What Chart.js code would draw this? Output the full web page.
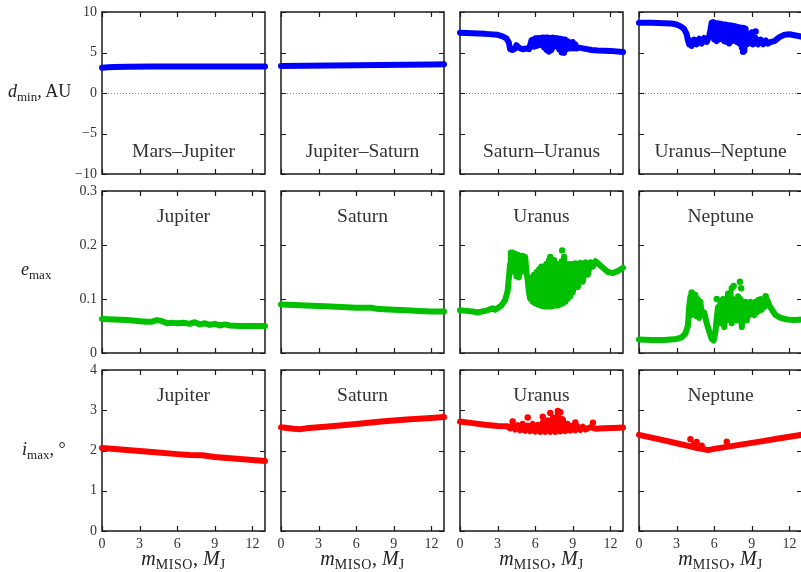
<!DOCTYPE html>
<html><head><meta charset="utf-8">
<script src="https://cdn.jsdelivr.net/npm/chart.js@4/dist/chart.umd.min.js"></script>
<style>
html,body{margin:0;padding:0;background:#fff;overflow:hidden;width:801px;height:572px;}
#wrap{position:relative;width:801px;height:572px;overflow:hidden;background:#fff;}
#wrap canvas{position:absolute;}
.lab{position:absolute;font-family:"Liberation Serif",serif;color:#222;white-space:nowrap;line-height:1;font-size:18px;}
.lab i{font-style:italic;}
.lab .s{font-size:13px;position:relative;top:4px;}
.lab.x{font-size:20px;}
.lab.x .s{font-size:14px;letter-spacing:0.6px;top:4px;}
</style></head><body><div id="wrap"></div>
<script>
// ---------- tick values and labels ----------
const massTicks = [0, 3, 6, 9, 12];
const massTickLabels = ['0', '3', '6', '9', '12'];
const dminTicks = [-10, -5, 0, 5, 10];
const dminTickLabels = ['\u221210', '\u22125', '0', '5', '10'];
const emaxTicks = [0, 0.1, 0.2, 0.3];
const emaxTickLabels = ['0', '0.1', '0.2', '0.3'];
const imaxTicks = [0, 1, 2, 3, 4];
const imaxTickLabels = ['0', '1', '2', '3', '4'];

const pairNames = ['Mars\u2013Jupiter', 'Jupiter\u2013Saturn', 'Saturn\u2013Uranus', 'Uranus\u2013Neptune'];
const planetNames = ['Jupiter', 'Saturn', 'Uranus', 'Neptune'];

// ---------- d_min (AU) ----------
const dminMarsJupiterMass = [0, 0.5, 1, 2, 4, 6, 8, 10, 12, 13];
const dminMarsJupiterAU   = [3.12, 3.18, 3.22, 3.25, 3.26, 3.26, 3.26, 3.26, 3.26, 3.26];

const dminJupiterSaturnMass = [0, 2, 4, 6, 8, 10, 12, 13];
const dminJupiterSaturnAU   = [3.33, 3.37, 3.4, 3.43, 3.46, 3.49, 3.52, 3.54];

const dminSaturnUranusMass = [0, 1, 2, 3, 3.4, 3.7, 3.9, 4.0, 4.2, 4.4, 4.5, 4.7, 5.0, 5.3, 5.5, 5.6, 5.7, 5.8, 5.9, 6.0,
  6.1, 6.2, 6.3, 6.4, 6.5, 6.6, 6.7, 6.8, 6.9, 7.0, 7.1, 7.2, 7.3, 7.4, 7.5, 7.6, 7.7, 7.8, 7.9, 8.0,
  8.1, 8.2, 8.3, 8.4, 8.5, 8.6, 8.7, 8.8, 8.9, 9.0, 9.1, 9.2, 9.3, 9.5, 10.0, 10.5, 11, 12, 13];
const dminSaturnUranusAU = [7.45, 7.38, 7.3, 7.18, 7.0, 6.75, 6.2, 5.4, 5.3, 5.5, 5.9, 5.6, 5.4, 5.5, 5.4, 5.9, 6.5, 6.6, 5.7, 6.75,
  5.8, 6.8, 5.9, 6.8, 6.0, 6.85, 5.6, 6.85, 5.3, 6.85, 5.1, 6.8, 5.3, 6.85, 5.7, 6.8, 5.8, 6.75, 5.4, 6.7,
  5.0, 6.65, 4.95, 6.6, 5.4, 6.4, 5.5, 6.1, 5.5, 6.3, 5.5, 6.0, 5.5, 5.6, 5.45, 5.3, 5.25, 5.2, 5.05];

const dminUranusNeptuneMass = [0, 1, 2, 2.6, 3.0, 3.3, 3.6, 3.8, 3.9, 4.0, 4.1, 4.2, 4.4, 4.6, 4.8, 5.0, 5.2, 5.4, 5.6, 5.7,
  5.8, 5.9, 6.0, 6.1, 6.2, 6.3, 6.4, 6.5, 6.6, 6.7, 6.8, 6.9, 7.0, 7.1, 7.2, 7.3, 7.4, 7.5, 7.6, 7.7,
  7.8, 7.9, 8.0, 8.1, 8.2, 8.3, 8.4, 8.5, 8.6, 8.8, 8.9, 9.0, 9.1, 9.3, 9.5, 9.7, 9.9, 10.1, 10.3, 10.5,
  10.8, 11.2, 11.6, 12.0, 12.5, 13];
const dminUranusNeptuneAU = [8.68, 8.66, 8.62, 8.58, 8.45, 8.25, 7.9, 7.3, 6.5, 6.0, 6.5, 5.8, 6.6, 6.0, 6.7, 6.1, 6.8, 6.3, 7.0, 7.8,
  8.7, 8.75, 6.6, 8.65, 6.4, 8.6, 6.6, 8.55, 6.7, 8.5, 6.4, 8.45, 6.3, 8.4, 6.1, 8.35, 6.4, 8.3, 6.6, 8.25,
  6.3, 8.15, 6.1, 8.1, 5.6, 8.05, 5.2, 7.95, 6.0, 7.2, 6.1, 7.5, 6.0, 6.8, 6.0, 6.6, 6.0, 6.5, 6.1, 6.3,
  6.4, 6.9, 7.2, 7.25, 7.1, 6.95];
const dminUranusNeptuneDotMass = [9.3, 8.3];
const dminUranusNeptuneDotAU = [7.6, 5.1];

// ---------- e_max ----------
const emaxJupiterMass = [0, 1, 2, 3, 3.6, 4.0, 4.4, 4.8, 5.2, 5.6, 6.0, 6.5, 7.0, 7.4, 7.8, 8.2, 8.6, 9.0, 9.4, 9.8, 10.2, 11, 12, 13];
const emaxJupiterE = [0.063, 0.062, 0.061, 0.059, 0.058, 0.058, 0.061, 0.059, 0.055, 0.056, 0.055, 0.056,
  0.054, 0.057, 0.053, 0.055, 0.052, 0.054, 0.051, 0.053, 0.051, 0.050, 0.050, 0.050];

const emaxSaturnMass = [0, 2, 4, 6, 7.2, 7.6, 8.2, 9, 10, 11, 12, 13];
const emaxSaturnE = [0.090, 0.088, 0.086, 0.084, 0.084, 0.082, 0.081, 0.080, 0.079, 0.078, 0.077, 0.077];

const emaxUranusMass = [0, 0.5, 1.0, 1.4, 1.8, 2.2, 2.6, 2.8, 3.0, 3.3, 3.6, 3.8, 3.9, 4.0, 4.05,
  4.1, 4.2, 4.3, 4.4, 4.5, 4.6, 4.7, 4.8, 4.9, 5.0, 5.1, 5.2, 5.3, 5.4, 5.5, 5.6, 5.7, 5.8, 5.9,
  6.0, 6.1, 6.2, 6.3, 6.4, 6.5, 6.6, 6.7, 6.8, 6.9, 7.0, 7.1, 7.2, 7.3, 7.4, 7.5, 7.6, 7.7, 7.8, 7.9,
  8.0, 8.1, 8.2, 8.3, 8.4, 8.5, 8.6, 8.7, 8.8, 8.9, 9.0, 9.2, 9.4, 9.6, 9.8,
  10.0, 10.2, 10.4, 10.6, 10.8, 11.0, 11.4, 11.8, 12.2, 12.6, 13];
const emaxUranusE = [0.079, 0.078, 0.077, 0.075, 0.077, 0.079, 0.083, 0.080, 0.083, 0.088, 0.098, 0.115, 0.140, 0.165, 0.186,
  0.150, 0.186, 0.155, 0.184, 0.142, 0.182, 0.140, 0.180, 0.150, 0.180, 0.160, 0.178, 0.150, 0.135, 0.112, 0.100, 0.140, 0.095, 0.145,
  0.092, 0.150, 0.090, 0.155, 0.088, 0.145, 0.087, 0.160, 0.086, 0.150, 0.086, 0.172, 0.086, 0.165, 0.087, 0.150, 0.088, 0.165, 0.088, 0.155,
  0.090, 0.170, 0.092, 0.175, 0.095, 0.165, 0.100, 0.165, 0.105, 0.165, 0.112, 0.166, 0.122, 0.167, 0.132,
  0.168, 0.145, 0.168, 0.160, 0.170, 0.166, 0.158, 0.150, 0.148, 0.152, 0.158];
const emaxUranusDotMass = [7.2, 7.5, 8.15, 8.3, 6.5, 9.0, 6.9];
const emaxUranusDotE = [0.178, 0.172, 0.190, 0.178, 0.160, 0.117, 0.165];

const emaxNeptuneMass = [0, 1, 2, 2.5, 3.0, 3.4, 3.7, 3.9,
  4.0, 4.1, 4.2, 4.3, 4.4, 4.5, 4.6, 4.7, 4.8, 4.9, 5.0, 5.2, 5.4, 5.6, 5.8, 5.95,
  6.1, 6.2, 6.3, 6.4, 6.5, 6.6, 6.7, 6.8, 6.9, 7.0, 7.1, 7.2, 7.3, 7.4, 7.5, 7.6, 7.7, 7.8, 7.9,
  8.0, 8.1, 8.2, 8.3, 8.4, 8.5, 8.6, 8.7, 8.8, 8.9, 9.0, 9.1, 9.2, 9.3, 9.4, 9.5, 9.6, 9.7, 9.8, 9.9,
  10.0, 10.2, 10.4, 10.6, 10.9, 11.3, 11.8, 12.4, 13];
const emaxNeptuneE = [0.025, 0.024, 0.024, 0.025, 0.026, 0.029, 0.036, 0.050,
  0.085, 0.105, 0.070, 0.110, 0.075, 0.108, 0.068, 0.100, 0.065, 0.095, 0.070, 0.075, 0.055, 0.040, 0.026, 0.023,
  0.040, 0.065, 0.085, 0.055, 0.095, 0.060, 0.100, 0.048, 0.095, 0.060, 0.110, 0.065, 0.112, 0.055, 0.100, 0.070, 0.095, 0.060, 0.105,
  0.068, 0.100, 0.048, 0.090, 0.065, 0.095, 0.060, 0.090, 0.070, 0.095, 0.075, 0.092, 0.070, 0.095, 0.075, 0.098, 0.078, 0.100, 0.080, 0.095,
  0.085, 0.100, 0.088, 0.080, 0.070, 0.065, 0.062, 0.061, 0.062];
const emaxNeptuneDotMass = [7.4, 7.55, 8.05, 8.15, 6.2, 10.1, 4.2];
const emaxNeptuneDotE = [0.120, 0.124, 0.132, 0.120, 0.100, 0.105, 0.112];

// ---------- i_max (deg) ----------
const imaxJupiterMass = [0, 2, 4, 6, 7, 8, 9, 11, 13];
const imaxJupiterDeg = [2.06, 2.01, 1.96, 1.91, 1.89, 1.88, 1.84, 1.79, 1.74];

const imaxSaturnMass = [0, 0.5, 1.0, 1.5, 2.0, 4, 6, 8, 10, 12, 13];
const imaxSaturnDeg = [2.58, 2.56, 2.54, 2.53, 2.55, 2.60, 2.66, 2.72, 2.77, 2.81, 2.83];

const imaxUranusMass = [0, 1, 2, 3, 3.8,
  4.0, 4.2, 4.4, 4.6, 4.8, 5.0, 5.2, 5.4, 5.6, 5.8, 6.0, 6.2, 6.4, 6.6, 6.8,
  7.0, 7.2, 7.4, 7.6, 7.8, 8.0, 8.2, 8.4, 8.6, 8.8, 9.0, 9.2, 9.4, 9.6, 9.8,
  10.0, 10.4, 10.8, 11.5, 12.2, 13];
const imaxUranusDeg = [2.72, 2.68, 2.64, 2.61, 2.60,
  2.55, 2.64, 2.52, 2.63, 2.50, 2.60, 2.49, 2.62, 2.48, 2.66, 2.47, 2.64, 2.46, 2.70, 2.46,
  2.75, 2.46, 2.82, 2.46, 2.90, 2.47, 2.78, 2.48, 2.66, 2.49, 2.62, 2.50, 2.60, 2.51, 2.59,
  2.52, 2.58, 2.54, 2.55, 2.56, 2.57];
const imaxUranusDotMass = [4.2, 5.4, 6.6, 7.2, 7.8, 8.0, 10.6, 5.0, 9.2];
const imaxUranusDotDeg = [2.72, 2.82, 2.84, 2.93, 2.98, 2.95, 2.69, 2.66, 2.70];

const imaxNeptuneMass = [0, 1, 2, 3, 4, 4.5, 5.0, 5.5, 6.0, 7.0, 8, 9, 10, 11, 12, 13];
const imaxNeptuneDeg = [2.39, 2.32, 2.25, 2.18, 2.11, 2.07, 2.04, 2.01, 2.04, 2.09, 2.14, 2.19, 2.24, 2.29, 2.34, 2.39];
const imaxNeptuneDotMass = [4.1, 4.6, 7.0, 5.0, 4.4];
const imaxNeptuneDotDeg = [2.28, 2.21, 2.22, 2.12, 2.16];

// ---------- layout (pixels) ----------
const colLeft = [102, 281, 460, 639];
const rowTop = [12, 191, 370];
const panelW = 163;
const panelH = [162, 162, 161];
const padTop = 16;
const rowColors = ['#0000ff', '#00c000', '#ff0000'];
const rowRange = [[-10, 10], [0, 0.3], [0, 4]];
const rowTicks = [dminTicks, emaxTicks, imaxTicks];
const rowTickLabels = [dminTickLabels, emaxTickLabels, imaxTickLabels];

const panels = [
  {row: 0, col: 0, title: pairNames[0], x: dminMarsJupiterMass, y: dminMarsJupiterAU},
  {row: 0, col: 1, title: pairNames[1], x: dminJupiterSaturnMass, y: dminJupiterSaturnAU},
  {row: 0, col: 2, title: pairNames[2], x: dminSaturnUranusMass, y: dminSaturnUranusAU},
  {row: 0, col: 3, title: pairNames[3], x: dminUranusNeptuneMass, y: dminUranusNeptuneAU, dx: dminUranusNeptuneDotMass, dy: dminUranusNeptuneDotAU},
  {row: 1, col: 0, title: planetNames[0], x: emaxJupiterMass, y: emaxJupiterE},
  {row: 1, col: 1, title: planetNames[1], x: emaxSaturnMass, y: emaxSaturnE},
  {row: 1, col: 2, title: planetNames[2], x: emaxUranusMass, y: emaxUranusE, dx: emaxUranusDotMass, dy: emaxUranusDotE},
  {row: 1, col: 3, title: planetNames[3], x: emaxNeptuneMass, y: emaxNeptuneE, dx: emaxNeptuneDotMass, dy: emaxNeptuneDotE},
  {row: 2, col: 0, title: planetNames[0], x: imaxJupiterMass, y: imaxJupiterDeg},
  {row: 2, col: 1, title: planetNames[1], x: imaxSaturnMass, y: imaxSaturnDeg},
  {row: 2, col: 2, title: planetNames[2], x: imaxUranusMass, y: imaxUranusDeg, dx: imaxUranusDotMass, dy: imaxUranusDotDeg},
  {row: 2, col: 3, title: planetNames[3], x: imaxNeptuneMass, y: imaxNeptuneDeg, dx: imaxNeptuneDotMass, dy: imaxNeptuneDotDeg}
];

const panelDecor = {
  id: 'panelDecor',
  beforeDatasetsDraw(chart, args, o) {
    const {ctx, chartArea: a, scales: {x, y}} = chart;
    ctx.save();
    if (o.zeroLine) {
      const py = Math.round(y.getPixelForValue(0)) + 0.5;
      ctx.strokeStyle = '#8a8a8a'; ctx.lineWidth = 1; ctx.setLineDash([1, 2]);
      ctx.beginPath(); ctx.moveTo(a.left, py); ctx.lineTo(a.right, py); ctx.stroke();
      ctx.setLineDash([]);
    }
    ctx.strokeStyle = '#1a1a1a'; ctx.lineWidth = 1.5;
    ctx.strokeRect(a.left, a.top, a.right - a.left, a.bottom - a.top);
    ctx.lineWidth = 1.2;
    ctx.beginPath();
    for (const t of x.ticks) {
      const px = Math.round(x.getPixelForValue(t.value)) + 0.5;
      ctx.moveTo(px, a.bottom); ctx.lineTo(px, a.bottom - 5);
      ctx.moveTo(px, a.top); ctx.lineTo(px, a.top + 5);
    }
    for (const t of y.ticks) {
      const py = Math.round(y.getPixelForValue(t.value)) + 0.5;
      ctx.moveTo(a.left, py); ctx.lineTo(a.left + 5, py);
      ctx.moveTo(a.right, py); ctx.lineTo(a.right - 5, py);
    }
    ctx.stroke();
    ctx.fillStyle = '#333';
    ctx.font = '19.5px "Liberation Serif"';
    ctx.textAlign = 'center';
    ctx.textBaseline = 'alphabetic';
    const cx = (a.left + a.right) / 2;
    const by = o.titleAtBottom ? a.bottom - 17 : a.top + 31;
    ctx.fillText(o.title, cx, by);
    ctx.restore();
  }
};

Chart.defaults.font.family = '"Liberation Serif", serif';
const wrap = document.getElementById('wrap');

panels.forEach(p => {
  const cv = document.createElement('canvas');
  const w = panelW + 48, h = panelH[p.row] + padTop + 30;
  cv.width = w; cv.height = h;
  cv.style.width = w + 'px'; cv.style.height = h + 'px';
  cv.style.left = (colLeft[p.col] - 40) + 'px';
  cv.style.top = (rowTop[p.row] - padTop) + 'px';
  wrap.appendChild(cv);
  const color = rowColors[p.row];
  const datasets = [{
    data: p.x.map((v, i) => ({x: v, y: p.y[i]})),
    showLine: true, borderColor: color, borderWidth: 6,
    borderCapStyle: 'round', borderJoinStyle: 'round',
    pointRadius: 0, tension: 0, clip: 8
  }];
  if (p.dx) {
    datasets.push({
      data: p.dx.map((v, i) => ({x: v, y: p.dy[i]})),
      showLine: false, pointRadius: 3.2, pointBorderWidth: 0,
      backgroundColor: color, borderColor: color, clip: 8
    });
  }
  const yT = rowTicks[p.row], yL = rowTickLabels[p.row];
  new Chart(cv, {
    type: 'scatter',
    data: {datasets},
    options: {
      responsive: false, animation: false, events: [],
      layout: {padding: {left: 0, top: padTop, right: 8, bottom: 0}, autoPadding: false},
      plugins: {
        legend: {display: false}, tooltip: {enabled: false},
        panelDecor: {title: p.title, titleAtBottom: p.row === 0, zeroLine: p.row === 0}
      },
      scales: {
        x: {
          type: 'linear', position: 'bottom', min: 0, max: 13,
          afterBuildTicks: s => { s.ticks = massTicks.map(v => ({value: v})); },
          afterFit: s => { s.height = 30; },
          grid: {display: false, drawTicks: false}, border: {display: false},
          ticks: {display: p.row === 2, padding: 5, color: '#333', font: {size: 14},
            autoSkip: false, maxRotation: 0, callback: (v, i) => massTickLabels[i]}
        },
        y: {
          type: 'linear', position: 'left', min: rowRange[p.row][0], max: rowRange[p.row][1],
          afterBuildTicks: s => { s.ticks = yT.map(v => ({value: v})); },
          afterFit: s => { s.width = 40; },
          grid: {display: false, drawTicks: false}, border: {display: false},
          ticks: {display: p.col === 0, padding: 5, color: '#333', font: {size: 14},
            autoSkip: false, callback: (v, i) => yL[i]}
        }
      }
    },
    plugins: [panelDecor]
  });
});

// axis titles (HTML text)
function addLabel(html, left, baseline, centered, cls) {
  const d = document.createElement('div');
  d.className = 'lab' + (cls ? ' ' + cls : '');
  d.innerHTML = html;
  d.style.top = (baseline - (cls ? 17 : 15)) + 'px';
  if (centered) { d.style.left = (left - 70) + 'px'; d.style.width = '140px'; d.style.textAlign = 'center'; }
  else d.style.left = left + 'px';
  wrap.appendChild(d);
}
addLabel('<i>d</i><span class="s">min</span>, AU', 8, 97, false);
addLabel('<i>e</i><span class="s">max</span>', 21, 275, false);
addLabel('<i>i</i><span class="s">max</span>, \u00b0', 22, 455, false);
colLeft.forEach(l => addLabel('<i>m</i><span class="s">MISO</span>, <i>M</i><span class="s">J</span>', l + panelW / 2, 565, true, 'x'));
</script></body></html>
